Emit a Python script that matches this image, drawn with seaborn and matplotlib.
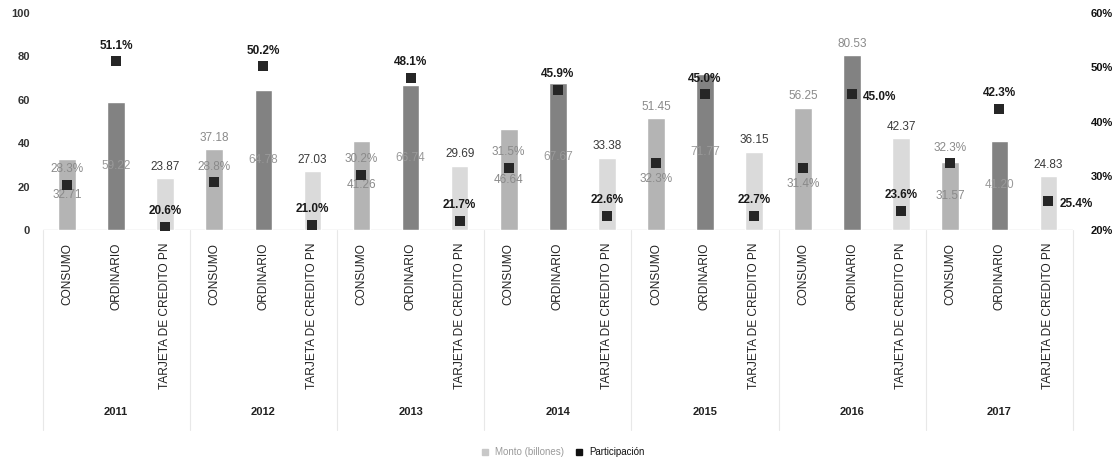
import matplotlib
matplotlib.use("Agg")
import matplotlib.pyplot as plt
from matplotlib.lines import Line2D
from matplotlib.transforms import blended_transform_factory
import pandas as pd
import seaborn as sns

# ---- data ----
years = ["2011", "2012", "2013", "2014", "2015", "2016", "2017"]
categorias = ["CONSUMO", "ORDINARIO", "TARJETA DE CREDITO PN"]

monto_consumo = [32.71, 37.18, 41.26, 46.64, 51.45, 56.25, 31.57]
monto_ordinario = [59.22, 64.78, 66.74, 67.67, 71.77, 80.53, 41.20]
monto_tarjeta = [23.87, 27.03, 29.69, 33.38, 36.15, 42.37, 24.83]

part_consumo = [28.3, 28.8, 30.2, 31.5, 32.3, 31.4, 32.3]
part_ordinario = [51.1, 50.2, 48.1, 45.9, 45.0, 45.0, 42.3]
part_tarjeta = [20.6, 21.0, 21.7, 22.6, 22.7, 23.6, 25.4]

# label placement for each bar (year by year, in category order)
monto_pos = ["center", "center", "top",
             "top", "center", "top",
             "center", "center", "top",
             "center", "center", "top",
             "top", "center", "top",
             "top", "top", "top",
             "center", "center", "top"]
part_pos = ["above", "above", "above",
            "above", "above", "above",
            "above", "above", "above",
            "above", "above", "above",
            "below", "above", "above",
            "below", "right", "above",
            "above", "above", "right"]

# ---- table ----
montos = [monto_consumo, monto_ordinario, monto_tarjeta]
parts = [part_consumo, part_ordinario, part_tarjeta]
rows = []
for yi, y in enumerate(years):
    for ci, c in enumerate(categorias):
        rows.append({"anio": y, "categoria": c, "clave": f"{y}|{c}",
                     "monto": montos[ci][yi], "part": parts[ci][yi]})
df = pd.DataFrame(rows)
df["pos"] = range(len(df))

sns.set_style("white")
plt.rcParams["font.family"] = ["Liberation Sans", "DejaVu Sans"]

palette = {"CONSUMO": "#b4b4b4", "ORDINARIO": "#828282",
           "TARJETA DE CREDITO PN": "#dadada"}

fig = plt.figure(figsize=(11.2, 4.65), dpi=100)
ax = fig.add_axes([0.038, 0.505, 0.92, 0.467])

sns.barplot(data=df, x="clave", y="monto", hue="categoria", order=list(df["clave"]),
            palette=palette, dodge=False, width=0.36, legend=False, ax=ax,
            saturation=1)
ax.set_xlim(-0.5, len(df) - 0.5)
ax.set_ylim(0, 100)
ax.set_yticks(range(0, 101, 20))
ax.set_xlabel("")
ax.set_ylabel("")
for s in ax.spines.values():
    s.set_visible(False)
ax.axhline(0, color="#d8d8d8", lw=1, zorder=0)
ax.tick_params(axis="both", length=0)
ax.tick_params(axis="y", pad=9, labelsize=8, labelcolor="#333333")
ax.set_xticks(range(len(df)))
ax.set_xticklabels(df["categoria"], rotation=90, fontsize=8.6, color="#222222")
ax.tick_params(axis="x", pad=9)
for t in ax.get_yticklabels():
    t.set_fontweight("bold")

# bar value labels
for i, r in df.iterrows():
    if monto_pos[i] == "top":
        ax.annotate(f"{r['monto']:.2f}", (r["pos"], r["monto"]), xytext=(0, 4),
                    textcoords="offset points", ha="center", va="bottom",
                    fontsize=8.5, color="#3a3a3a" if r["categoria"].startswith("TARJETA") else "#8a8a8a")
    else:
        ax.annotate(f"{r['monto']:.2f}", (r["pos"], r["monto"] / 2), ha="center",
                    va="center", fontsize=8.5,
                    color="#9a9a9a" if r["categoria"] == "ORDINARIO" else "#8a8a8a")

# participation markers on the secondary axis
ax2 = ax.twinx()
sns.scatterplot(data=df, x="pos", y="part", marker="s", s=62, color="#262626",
                linewidth=0, ax=ax2, legend=False, zorder=5)
ax2.set_xlim(-0.5, len(df) - 0.5)
ax2.set_ylim(20, 60)
ax2.set_yticks(range(20, 61, 10))
ax2.set_yticklabels([f"{v}%" for v in range(20, 61, 10)])
ax2.set_ylabel("")
for s in ax2.spines.values():
    s.set_visible(False)
ax2.tick_params(axis="y", length=0, pad=13, labelsize=8, labelcolor="#111111")
for t in ax2.get_yticklabels():
    t.set_fontweight("bold")

for i, r in df.iterrows():
    col = "#8a8a8a" if r["categoria"] == "CONSUMO" else "#1a1a1a"
    p = part_pos[i]
    if p == "above":
        off, ha, va = (0, 7), "center", "bottom"
    elif p == "below":
        off, ha, va = (0, -7), "center", "top"
    else:
        off, ha, va = (8, -2), "left", "center"
    ax2.annotate(f"{r['part']:.1f}%", (r["pos"], r["part"]), xytext=off,
                 textcoords="offset points", ha=ha, va=va, fontsize=8.5,
                 color=col, fontweight="bold" if col == "#1a1a1a" else "normal")

# year groups under the category labels
trans = blended_transform_factory(ax.transData, ax.transAxes)
n = len(categorias)
for k in range(len(years) + 1):
    xb = k * n - 0.5
    ax.plot([xb, xb], [0, -0.92], transform=trans, clip_on=False,
            color="#e8e8e8", lw=0.8)
for k, y in enumerate(years):
    ax.text(k * n + (n - 1) / 2, -0.838, y, transform=trans, ha="center",
            va="center", fontsize=8, fontweight="bold", color="#222222")

# legend
handles = [Line2D([], [], marker="s", ls="", color="#c8c8c8", markersize=4.5),
           Line2D([], [], marker="s", ls="", color="#111111", markersize=4.5)]
leg = fig.legend(handles, ["Monto (billones)", "Participación"], loc="center",
                 bbox_to_anchor=(0.5, 1 - 452 / 465), ncol=2, frameon=False,
                 fontsize=7, handletextpad=0.1, columnspacing=0.5)
leg.get_texts()[0].set_color("#9a9a9a")
leg.get_texts()[1].set_color("#111111")

fig.savefig("out.png", dpi=100)
